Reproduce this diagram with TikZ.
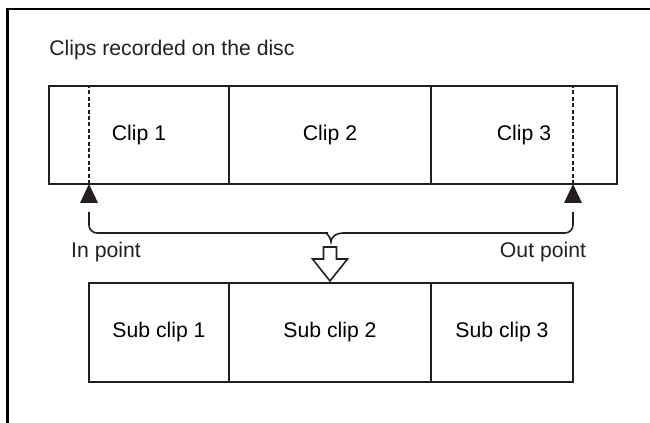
\documentclass[tikz,border=0pt]{standalone}
\usepackage{fontspec}
\setmainfont{Liberation Sans}
\usepackage{xcolor}
\usetikzlibrary{positioning}
\definecolor{ink}{HTML}{231F20}

\begin{document}
\begin{tikzpicture}[
    x=0.5pt,y=-0.5pt,
    node distance=0pt,
    font=\fontsize{10.6}{12}\selectfont,
    cell/.style={draw=ink,line width=0.9pt,minimum height=49pt,inner sep=0pt,outer sep=0pt},
    subcell/.style={cell,minimum height=49.5pt},
    cutline/.style={draw=ink,line width=0.9pt,dash pattern=on 2pt off 1.2pt},
    brace/.style={draw=ink,line width=0.8pt},
    label/.style={inner sep=0pt,text=ink}
  ]
    \useasboundingbox (0,0) rectangle (650,423);
    \draw[black,line width=1.2pt] (7.5,423) -- (7.5,9) -- (650,9);
    \node[label,anchor=west] (title) at (49,50) {Clips recorded on the disc};
    \node[cell,minimum width=90pt,anchor=north west] (clip1) at (49,86) {Clip 1};
    \node[cell,minimum width=101pt,right=of clip1] (clip2) {Clip 2};
    \node[cell,minimum width=93pt,right=of clip2] (clip3) {Clip 3};
    \node[subcell,minimum width=70pt,anchor=north west] (sub1) at (89,283) {Sub clip 1};
    \node[subcell,minimum width=101pt,right=of sub1] (sub2) {Sub clip 2};
    \node[subcell,minimum width=71pt,right=of sub2] (sub3) {Sub clip 3};
    \coordinate (inpt) at (sub1.north west |- clip1.south);
    \coordinate (outpt) at (sub3.north east |- clip3.south);
    \coordinate (tip) at ([yshift=1pt]sub2.north);
    \draw[cutline] (inpt) -- (inpt |- clip1.north);
    \draw[cutline] (outpt) -- (outpt |- clip3.north);
    \fill[ink] (inpt) -- ++(-9,19) -- ++(18,0) -- cycle;
    \fill[ink] (outpt) -- ++(-9,19) -- ++(18,0) -- cycle;
    \draw[brace] (89,212) [rounded corners=4pt] |- (319,233) [sharp corners]
      to[out=0,in=90] (331,242) to[out=90,in=180] (343,233)
      [rounded corners=4pt] -| (573,212);
    \draw[ink,fill=white,line width=0.8pt] (tip) -- ++(-17.5,-22) -- ++(11,0)
      -- ++(0,-12) -- ++(13,0) -- ++(0,12) -- ++(11,0) -- cycle;
    \node[label] (inlabel) at (106,252) {In point};
    \node[label] (outlabel) at (543,252) {Out point};
  \end{tikzpicture}
\end{document}
